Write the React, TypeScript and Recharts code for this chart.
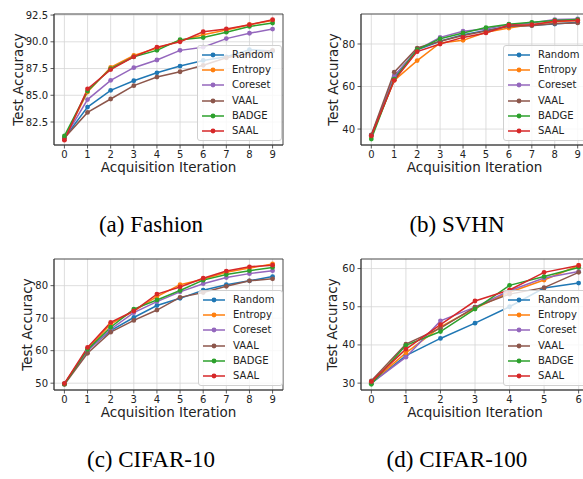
import React from 'react';
import { LineChart, Line, XAxis, YAxis, CartesianGrid, ReferenceArea, Label } from 'recharts';

const methods = ['Random', 'Entropy', 'Coreset', 'VAAL', 'BADGE', 'SAAL'];
const colors = ['#1f77b4', '#ff7f0e', '#9467bd', '#8c564b', '#2ca02c', '#d62728'];

const iters10 = [0, 1, 2, 3, 4, 5, 6, 7, 8, 9];
const iters7 = [0, 1, 2, 3, 4, 5, 6];

// rows follow the order of `methods`
const fashionAcc = [
  [81.0, 83.9, 85.46, 86.36, 87.1, 87.73, 88.26, 88.6, 89.26, 89.14],
  [81.0, 85.3, 87.6, 88.73, 89.4, 90.1, 90.66, 91.1, 91.6, 92.0],
  [81.0, 84.6, 86.4, 87.58, 88.3, 89.2, 89.5, 90.3, 90.8, 91.19],
  [81.0, 83.4, 84.65, 85.9, 86.7, 87.2, 87.8, 88.5, 88.9, 89.2],
  [81.2, 85.4, 87.5, 88.6, 89.2, 90.2, 90.4, 90.9, 91.44, 91.75],
  [80.8, 85.6, 87.4, 88.6, 89.5, 90.0, 90.94, 91.2, 91.6, 92.06],
];

const svhnAcc = [
  [37.0, 64.5, 77.3, 81.3, 84.4, 86.4, 88.3, 88.8, 89.4, 90.2],
  [36.5, 62.9, 72.2, 80.5, 81.7, 85.5, 87.5, 89.1, 90.5, 91.1],
  [37.0, 65.0, 77.3, 83.1, 86.0, 87.1, 89.1, 89.9, 91.5, 91.8],
  [37.3, 66.7, 78.1, 81.3, 84.0, 86.1, 88.3, 88.6, 89.6, 89.9],
  [35.3, 63.5, 77.3, 82.5, 85.2, 87.7, 89.3, 90.2, 91.1, 91.5],
  [36.8, 62.9, 76.4, 80.0, 83.1, 85.2, 88.9, 89.1, 90.7, 91.0],
];

const cifar10Acc = [
  [49.8, 60.2, 66.2, 70.2, 73.9, 76.1, 78.6, 80.3, 81.5, 82.8],
  [49.8, 60.4, 68.2, 72.2, 76.6, 80.3, 82.0, 84.1, 85.4, 86.7],
  [49.8, 59.9, 66.6, 71.7, 75.1, 78.1, 80.6, 82.5, 83.7, 84.6],
  [49.6, 59.2, 65.7, 69.3, 72.5, 76.4, 77.9, 79.8, 81.5, 82.1],
  [49.7, 60.4, 67.2, 72.8, 75.6, 78.5, 81.7, 83.4, 84.6, 85.6],
  [49.9, 61.0, 68.7, 72.2, 77.4, 79.6, 82.3, 84.5, 85.8, 86.3],
];

const cifar100Acc = [
  [30.0, 37.2, 41.7, 45.7, 50.0, 54.9, 56.2],
  [30.2, 37.9, 44.7, 49.6, 53.8, 57.0, 60.8],
  [30.0, 36.8, 46.3, 49.9, 54.2, 57.5, 59.2],
  [30.6, 40.2, 44.4, 49.9, 53.3, 55.0, 59.0],
  [29.7, 39.9, 43.5, 49.4, 55.6, 57.9, 60.3],
  [30.4, 38.9, 45.3, 51.5, 54.4, 59.0, 60.8],
];

const fashionTicks = [82.5, 85, 87.5, 90, 92.5];
const svhnTicks = [40, 60, 80];
const cifar10Ticks = [50, 60, 70, 80];
const cifar100Ticks = [30, 40, 50, 60];

const captions = ['(a) Fashion', '(b) SVHN', '(c) CIFAR-10', '(d) CIFAR-100'];

const FONT = '"DejaVu Sans", sans-serif';
const INK = '#222';

type PanelProps = {
  x: number; y: number; w: number;
  plotL: number; plotT: number; plotR: number; plotB: number;
  xs: number[]; acc: number[][];
  xDom: [number, number]; yDom: [number, number]; yTicks: number[];
  fmt: (v: number) => string;
  ylabelX: number; legendX: number; legendY: number;
};

function Panel(p: PanelProps) {
  const data = p.xs.map((it, i) => {
    const row: any = { it };
    methods.forEach((m, k) => { row[m] = p.acc[k][i]; });
    return row;
  });
  const h = 200;
  const xAxisH = 27;
  const margin = {
    top: p.plotT - p.y,
    right: p.x + p.w - p.plotR,
    bottom: p.y + h - p.plotB - xAxisH,
    left: 0,
  };
  const cx = (p.plotL + p.plotR) / 2 - p.x;
  const cy = (p.plotT + p.plotB) / 2 - p.y;

  return (
    <div style={{ position: 'absolute', left: p.x, top: p.y, width: p.w, height: h }}>
      <LineChart width={p.w} height={h} data={data} margin={margin}>
        <CartesianGrid stroke="#d6d6d6" strokeWidth={0.8} fill="none" />
        <XAxis
          type="number" dataKey="it" domain={p.xDom} ticks={p.xs} interval={0}
          height={xAxisH} tickSize={3.5} tickMargin={2}
          axisLine={{ stroke: '#333', strokeWidth: 0.8 }} tickLine={{ stroke: '#333', strokeWidth: 0.8 }}
          tick={{ fontSize: 10, fill: INK, fontFamily: FONT }}
        >
          <Label content={() => (
            <text x={cx} y={p.plotB - p.y + 27} textAnchor="middle" fontSize={13.5} fill={INK} fontFamily={FONT}>
              Acquisition Iteration
            </text>
          )} />
        </XAxis>
        <YAxis
          type="number" domain={p.yDom} ticks={p.yTicks} interval={0} width={p.plotL - p.x}
          tickFormatter={p.fmt} tickSize={3.5} tickMargin={2.5}
          axisLine={{ stroke: '#333', strokeWidth: 0.8 }} tickLine={{ stroke: '#333', strokeWidth: 0.8 }}
          tick={{ fontSize: 10, fill: INK, fontFamily: FONT }}
        >
          <Label content={() => (
            <text transform={`translate(${p.ylabelX - p.x}, ${cy}) rotate(-90)`} textAnchor="middle"
              dominantBaseline="central" fontSize={13.5} fill={INK} fontFamily={FONT}>
              Test Accuracy
            </text>
          )} />
        </YAxis>
        <ReferenceArea x1={p.xDom[0]} x2={p.xDom[1]} y1={p.yDom[0]} y2={p.yDom[1]}
          fill="none" fillOpacity={0} stroke="#333" strokeWidth={0.8} ifOverflow="visible" />
        {methods.map((m, k) => (
          <Line key={m} type="linear" dataKey={m} stroke={colors[k]} strokeWidth={1.5}
            dot={{ r: 2.4, fill: colors[k], stroke: colors[k], strokeWidth: 0 }}
            activeDot={false} isAnimationActive={false} />
        ))}
      </LineChart>
      <div style={{
        position: 'absolute', left: p.legendX - p.x, top: p.legendY - p.y, width: 85, height: 96,
        boxSizing: 'border-box', background: 'rgba(255,255,255,0.8)', border: '1px solid #d0d0d0',
        borderRadius: 3, paddingTop: 1,
      }}>
        {methods.map((m, k) => (
          <div key={m} style={{ display: 'flex', alignItems: 'center', height: 15.3 }}>
            <svg width={22} height={8} style={{ marginLeft: 4, marginRight: 8 }}>
              <line x1={0} y1={4} x2={22} y2={4} stroke={colors[k]} strokeWidth={1.5} />
              <circle cx={11} cy={4} r={2.4} fill={colors[k]} />
            </svg>
            <span style={{ fontFamily: FONT, fontSize: 10, color: INK, lineHeight: '10px' }}>{m}</span>
          </div>
        ))}
      </div>
    </div>
  );
}

export default function App() {
  const f1 = (v: number) => v.toFixed(1);
  const f0 = (v: number) => String(v);
  return (
    <div style={{ position: 'absolute', left: 0, top: 0, width: 583, height: 479, overflow: 'hidden', background: '#fff' }}>
      <Panel x={0} y={0} w={290} plotL={54} plotT={14} plotR={283} plotB={145}
        xs={iters10} acc={fashionAcc} xDom={[-0.45, 9.45]} yDom={[80.35, 92.6]} yTicks={fashionTicks}
        fmt={f1} ylabelX={17.5} legendX={197} legendY={45} />
      <Panel x={290} y={0} w={300} plotL={361} plotT={14} plotR={588} plotB={145}
        xs={iters10} acc={svhnAcc} xDom={[-0.45, 9.45]} yDom={[32.5, 94.1]} yTicks={svhnTicks}
        fmt={f0} ylabelX={332.5} legendX={503} legendY={45} />
      <Panel x={0} y={240} w={290} plotL={54} plotT={259} plotR={283} plotB={390}
        xs={iters10} acc={cifar10Acc} xDom={[-0.45, 9.45]} yDom={[47.9, 88.2]} yTicks={cifar10Ticks}
        fmt={f0} ylabelX={27} legendX={198} legendY={290} />
      <Panel x={290} y={240} w={300} plotL={361} plotT={259} plotR={589} plotB={390}
        xs={iters7} acc={cifar100Acc} xDom={[-0.3, 6.3]} yDom={[28.2, 62.5]} yTicks={cifar100Ticks}
        fmt={f0} ylabelX={332} legendX={503} legendY={290} />
      <svg width={583} height={479} style={{ position: 'absolute', left: 0, top: 0, pointerEvents: 'none' }}>
        <text x={151} y={232} textAnchor="middle" fontFamily='"Liberation Serif", serif' fontSize={23} fill="#000">{captions[0]}</text>
        <text x={457} y={232} textAnchor="middle" fontFamily='"Liberation Serif", serif' fontSize={23} fill="#000">{captions[1]}</text>
        <text x={151} y={467} textAnchor="middle" fontFamily='"Liberation Serif", serif' fontSize={23} fill="#000">{captions[2]}</text>
        <text x={457} y={467} textAnchor="middle" fontFamily='"Liberation Serif", serif' fontSize={23} fill="#000">{captions[3]}</text>
      </svg>
    </div>
  );
}
